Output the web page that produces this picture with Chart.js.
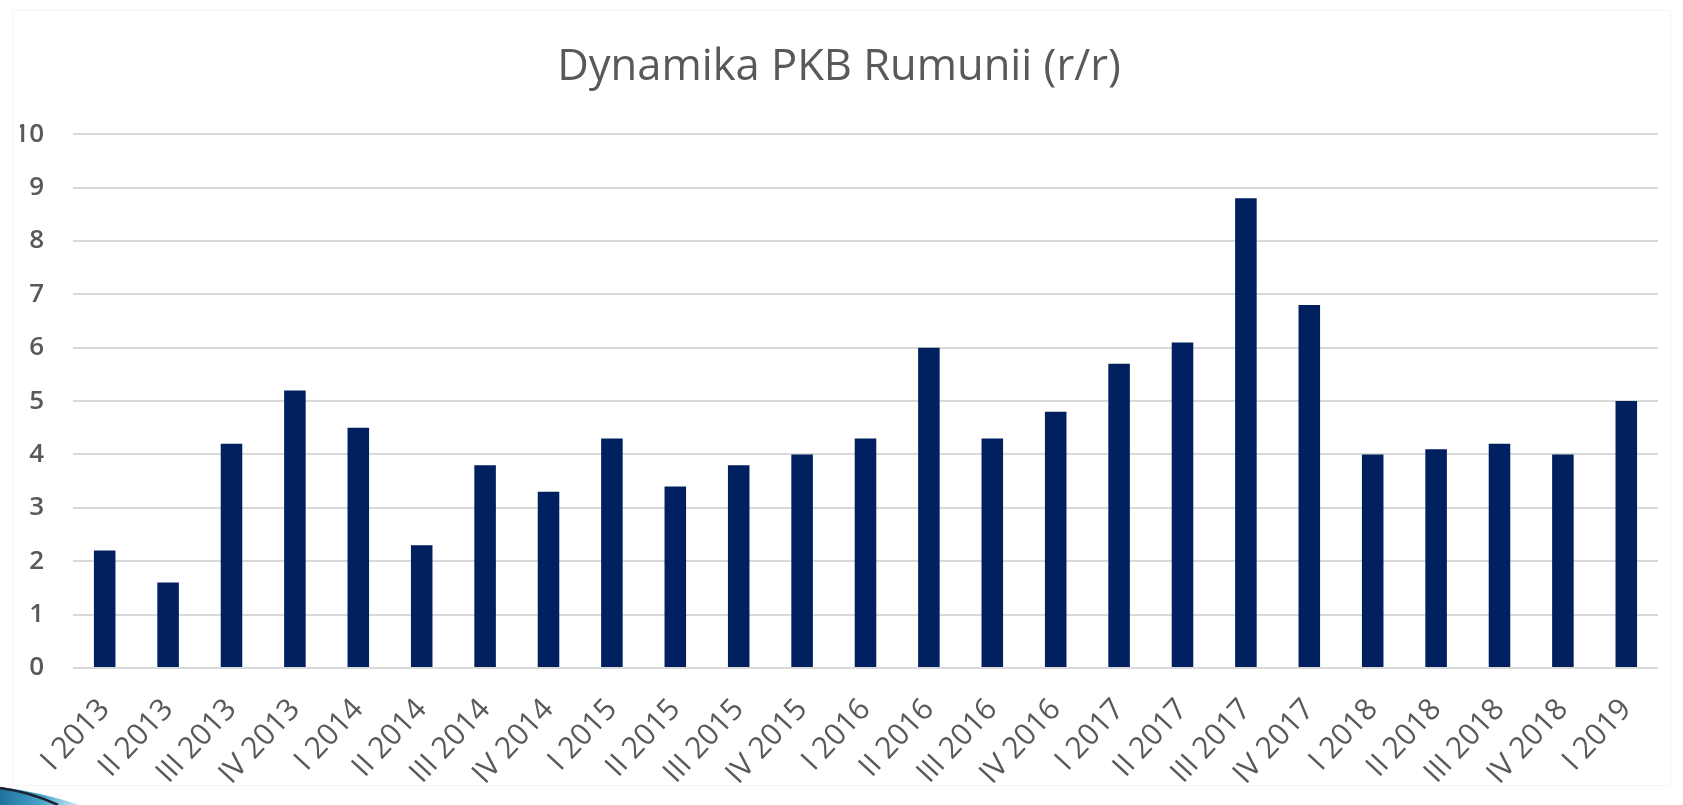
<!DOCTYPE html>
<html>
<head>
<meta charset="utf-8">
<script src="https://cdn.jsdelivr.net/npm/chart.js@4.4.1/dist/chart.umd.min.js"></script>
<style>
  html, body { margin: 0; padding: 0; background: #ffffff; }
  #wrap { width: 1683px; height: 805px; position: relative; }
</style>
</head>
<body>
<div id="wrap"><canvas id="c" width="1683" height="805"></canvas></div>
<script>
const chartTitle = 'Dynamika PKB Rumunii (r/r)';
const categories = [
  'I 2013','II 2013','III 2013','IV 2013',
  'I 2014','II 2014','III 2014','IV 2014',
  'I 2015','II 2015','III 2015','IV 2015',
  'I 2016','II 2016','III 2016','IV 2016',
  'I 2017','II 2017','III 2017','IV 2017',
  'I 2018','II 2018','III 2018','IV 2018',
  'I 2019'
];
const gdpGrowth = [
  2.2, 1.6, 4.2, 5.2,
  4.5, 2.3, 3.8, 3.3,
  4.3, 3.4, 3.8, 4.0,
  4.3, 6.0, 4.3, 4.8,
  5.7, 6.1, 8.8, 6.8,
  4.0, 4.1, 4.2, 4.0,
  5.0
];
const yMin = 0, yMax = 10, yStep = 1;

const decor = {
  id: 'decor',
  beforeDraw(chart) {
    const ctx = chart.ctx;
    ctx.save();
    ctx.fillStyle = '#ffffff';
    ctx.fillRect(0, 0, chart.width, chart.height);
    ctx.strokeStyle = '#f4f4f4';
    ctx.lineWidth = 1;
    ctx.strokeRect(12.5, 10.5, chart.width - 25, chart.height - 30);
    ctx.restore();
  },
  afterDraw(chart) {
    const ctx = chart.ctx;
    ctx.save();
    const g = ctx.createLinearGradient(0, 790, 80, 805);
    g.addColorStop(0, '#1e6f9e');
    g.addColorStop(0.55, '#4aa6cc');
    g.addColorStop(1, '#d6eef6');
    ctx.fillStyle = g;
    ctx.beginPath();
    ctx.moveTo(0, 787);
    ctx.quadraticCurveTo(40, 792, 80, 805);
    ctx.lineTo(0, 805);
    ctx.closePath();
    ctx.fill();
    ctx.strokeStyle = '#1b2230';
    ctx.lineWidth = 2.5;
    ctx.beginPath();
    ctx.moveTo(0, 788);
    ctx.quadraticCurveTo(30, 792, 58, 805);
    ctx.stroke();
    ctx.restore();
  }
};

new Chart(document.getElementById('c'), {
  type: 'bar',
  data: {
    labels: categories,
    datasets: [{
      label: 'PKB r/r',
      data: gdpGrowth,
      backgroundColor: '#002060',
      borderWidth: 0,
      barPercentage: 0.68,
      categoryPercentage: 0.5
    }]
  },
  options: {
    responsive: false,
    animation: false,
    layout: { padding: { left: 20, right: 25, top: 0, bottom: 0 } },
    plugins: {
      legend: { display: false },
      tooltip: { enabled: false },
      title: {
        display: true,
        text: chartTitle,
        color: '#595959',
        font: { family: 'Open Sans', size: 43.5, weight: '400', lineHeight: 1.2 },
        padding: { top: 42, bottom: 40 }
      }
    },
    scales: {
      x: {
        grid: { display: false },
        border: { display: false },
        ticks: {
          color: '#595959',
          font: { family: 'Open Sans', size: 30 },
          maxRotation: 47,
          minRotation: 47,
          padding: 16,
          autoSkip: false
        },
        afterFit(scale) { scale.height = 137; }
      },
      y: {
        min: yMin,
        max: yMax,
        border: { display: false },
        grid: { color: '#d9d9d9', lineWidth: 2, drawTicks: false },
        ticks: {
          stepSize: yStep,
          color: '#595959',
          font: { family: 'Open Sans', size: 26, weight: '600' },
          padding: 29
        },
        afterFit(scale) { scale.width = 53; }
      }
    }
  },
  plugins: [decor]
});
</script>
</body>
</html>
